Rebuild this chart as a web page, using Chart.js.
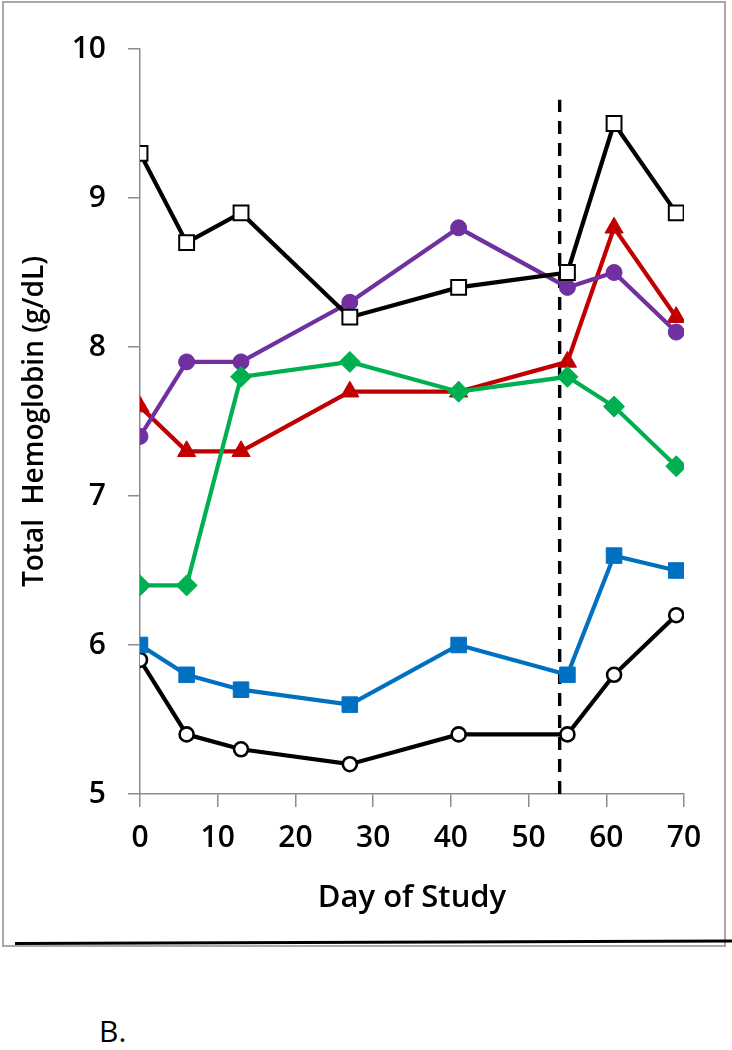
<!DOCTYPE html>
<html>
<head>
<meta charset="utf-8">
<script src="https://cdn.jsdelivr.net/npm/chart.js@4.4.1/dist/chart.umd.min.js"></script>
<style>
  html, body { margin: 0; padding: 0; background: #fff; }
  body { width: 732px; height: 1050px; position: relative; overflow: hidden; font-family: "Open Sans", Lato, sans-serif; }
  #frame { position: absolute; left: 2px; top: 1px; width: 720px; height: 942px; border: 2px solid #a9a9a9; }
  #wrap { position: absolute; left: 0; top: 0; width: 732px; height: 950px; }
  #rule { position: absolute; left: 15px; top: 942px; width: 717px; height: 3px; background: #000; transform: rotate(-0.2deg); transform-origin: left center; }
  #label { position: absolute; left: 99px; top: 1010px; font-size: 30px; color: #000; }
</style>
</head>
<body>
<div id="frame"></div>
<div id="wrap"><canvas id="chart-line" width="732" height="950"></canvas></div>
<div id="rule"></div>
<div id="label">B.</div>
<script>
  var days = [0, 6, 13, 27, 41, 55, 61, 69];

  var blackSquares = [9.3, 8.7, 8.9, 8.2, 8.4, 8.5, 9.5, 8.9];
  var purpleCircles = [7.4, 7.9, 7.9, 8.3, 8.8, 8.4, 8.5, 8.1];
  var redTriangles = [7.6, 7.3, 7.3, 7.7, 7.7, 7.9, 8.8, 8.2];
  var greenDiamonds = [6.4, 6.4, 7.8, 7.9, 7.7, 7.8, 7.6, 7.2];
  var blueSquares = [6.0, 5.8, 5.7, 5.6, 6.0, 5.8, 6.6, 6.5];
  var blackCircles = [5.9, 5.4, 5.3, 5.2, 5.4, 5.4, 5.8, 6.2];

  // vertical dashed marker
  var markerDay = 54;
  var markerRange = [5, 9.66];

  var xTicks = [0, 10, 20, 30, 40, 50, 60, 70];
  var yTicks = [5, 6, 7, 8, 9, 10];

  function pts(vals) {
    return vals.map(function (v, i) { return { x: days[i], y: v }; });
  }

  function series(vals, color, style, radius, fill, borderW) {
    return {
      data: pts(vals),
      borderColor: color,
      backgroundColor: fill,
      pointBorderColor: color,
      pointBackgroundColor: fill,
      pointStyle: style,
      pointRadius: radius,
      pointHoverRadius: radius,
      pointBorderWidth: borderW,
      borderWidth: 4.2,
      tension: 0,
      fill: false
    };
  }

  var tickFont = { size: 30, family: "Open Sans", weight: "600" };

  var ctx1 = document.getElementById("chart-line").getContext("2d");

  new Chart(ctx1, {
    type: "line",
    data: {
      datasets: [
        series(blackSquares, "#000000", "rect", 10.5, "#ffffff", 2),
        series(greenDiamonds, "#00B050", "rectRot", 10.5, "#00B050", 1),
        series(purpleCircles, "#7030A0", "circle", 8, "#7030A0", 1),
        series(redTriangles, "#C00000", "triangle", 10.5, "#C00000", 1),
        series(blueSquares, "#0070C0", "rect", 11, "#0070C0", 1),
        series(blackCircles, "#000000", "circle", 7, "#ffffff", 2.6),
        {
          data: markerRange.map(function (v) { return { x: markerDay, y: v }; }),
          borderColor: "#000000",
          borderWidth: 3.4,
          borderDash: [13, 9],
          pointRadius: 0,
          fill: false
        }
      ]
    },
    options: {
      responsive: false,
      animation: false,
      layout: { padding: { top: 49, right: 48, left: 0, bottom: 0 } },
      plugins: { legend: { display: false }, tooltip: { enabled: false } },
      scales: {
        x: {
          type: "linear",
          min: 0,
          max: 70,
          afterBuildTicks: function (s) { s.ticks = xTicks.map(function (v) { return { value: v }; }); },
          afterFit: function (s) { s.height = 156; },
          border: { color: "#8c8c8c", width: 1.5 },
          grid: { display: true, drawOnChartArea: false, drawTicks: true, tickLength: 13, color: "#8c8c8c", lineWidth: 1.5 },
          ticks: { color: "#000", padding: 13, maxRotation: 0, font: tickFont },
          title: { display: true, text: "Day of Study", color: "#000", padding: { top: 0, bottom: 33 }, font: { size: 31, family: "Open Sans", weight: "600" } }
        },
        y: {
          min: 5,
          max: 10,
          afterBuildTicks: function (s) { s.ticks = yTicks.map(function (v) { return { value: v }; }); },
          afterFit: function (s) { s.width = 140; },
          border: { color: "#8c8c8c", width: 1.5 },
          grid: { display: true, drawOnChartArea: false, drawTicks: true, tickLength: 12, color: "#8c8c8c", lineWidth: 1.5 },
          ticks: { color: "#000", padding: 22, font: tickFont },
          title: { display: true, text: "Total  Hemoglobin (g/dL)", color: "#000", padding: { top: 18, bottom: 0 }, font: { size: 28, family: "Open Sans", weight: "600" } }
        }
      }
    }
  });
</script>
</body>
</html>
